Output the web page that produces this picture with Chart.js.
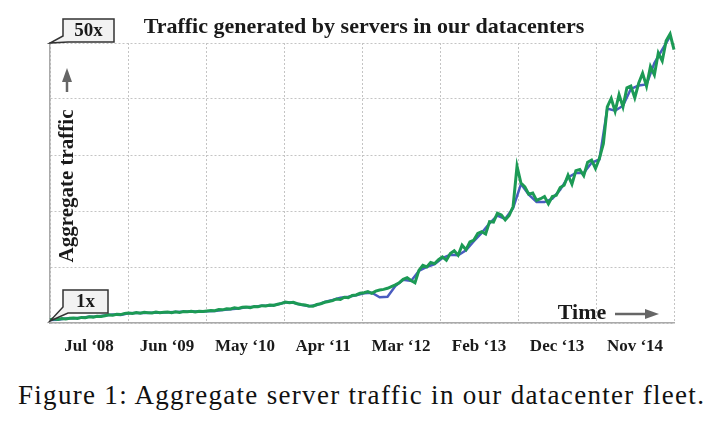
<!DOCTYPE html>
<html>
<head>
<meta charset="utf-8">
<script src="https://cdn.jsdelivr.net/npm/chart.js@4.4.1/dist/chart.umd.min.js"></script>
<style>
  body { margin: 0; background: #fff; }
  #wrap { position: relative; width: 720px; height: 427px; }
  #grafico { position: absolute; left: 0; top: 0; }
  #caption { position: absolute; left: 18px; top: 380px; font: 27px "Liberation Serif", serif; letter-spacing: 1.3px; color: #111; white-space: nowrap; }
</style>
</head>
<body>
<div id="wrap">
  <canvas id="grafico" width="720" height="370"></canvas>
  <div id="caption">Figure 1: Aggregate server traffic in our datacenter fleet.</div>
</div>
<script>
const titulo = "Traffic generated by servers in our datacenters";
const fechas = ["Jul \u201808", "Jun \u201809", "May \u201810", "Apr \u201811", "Mar \u201812", "Feb \u201813", "Dec \u201813", "Nov \u201814"];

// green series, evenly spaced in time from Jul '08 to early '15
const trafico = [
  0.6, 0.75, 0.65, 0.8, 0.7, 0.85, 0.9, 0.8, 1.0, 0.95,
  1.1, 1.05, 1.2, 1.15, 1.3, 1.45, 1.4, 1.55, 1.5, 1.7,
  1.8, 1.7, 1.85, 1.75, 1.9, 1.85, 1.8, 1.95, 1.85, 1.9,
  1.95, 1.85, 2.0, 1.9, 2.05, 2.0, 2.1, 1.95, 2.1, 2.05,
  2.15, 2.25, 2.2, 2.4, 2.35, 2.55, 2.5, 2.7, 2.6, 2.8,
  2.85, 2.75, 2.95, 2.9, 3.1, 3.05, 3.2, 3.15, 3.35, 3.5,
  3.75, 3.6, 3.7, 3.45, 3.3, 3.2, 3.05, 3.0, 3.3, 3.45,
  3.7, 3.85, 4.0, 4.3, 4.2, 4.6, 4.5, 4.9, 5.0, 5.3,
  5.4, 5.6, 5.3, 5.7, 5.9, 6.0, 6.2, 6.5, 6.8, 7.2,
  7.8, 8.1, 7.6, 7.2, 9.4, 10.3, 10.0, 10.8, 10.6, 11.3,
  11.8, 11.2, 12.4, 12.9, 12.1, 13.9, 13.1, 14.5, 14.8, 16.0,
  16.3, 15.9, 18.1, 18.0, 19.6, 19.3, 18.4, 19.2, 20.8, 28.0,
  25.0, 24.3, 23.0, 23.2, 21.9, 22.2, 22.6, 21.3, 22.6, 22.8,
  24.2, 24.6, 26.4, 24.8, 27.2, 27.4, 26.3, 28.7, 29.1, 27.6,
  29.4, 32.0, 38.6, 40.1, 37.8, 40.8, 38.6, 42.0, 42.3, 40.2,
  42.8, 44.6, 42.3, 45.8, 44.3, 48.2, 46.8, 50.4, 51.6, 48.8
];

// blue series, every second sample of the same period
const traficoAzul = [
  0.55, 0.6, 0.8, 0.85, 0.95, 1.1, 1.15, 1.35, 1.5, 1.45,
  1.75, 1.8, 1.8, 1.85, 1.85, 1.9, 1.95, 2.0, 2.05, 2.05,
  2.1, 2.15, 2.3, 2.45, 2.6, 2.8, 2.9, 3.1, 3.1, 3.3,
  3.7, 3.6, 3.25, 3.0, 3.2, 3.75, 4.1, 4.5, 4.7, 4.95,
  5.3, 5.4, 4.6, 4.7, 6.6, 7.7, 7.5, 9.3, 10.0, 10.5,
  11.6, 12.2, 12.1, 13.0, 14.6, 16.1, 17.8, 19.2, 18.6, 20.5,
  24.8, 22.9, 21.6, 21.6, 22.2, 23.8, 26.0, 26.8, 26.8, 28.6,
  29.2, 38.3, 37.9, 38.8, 41.8, 42.4, 42.6, 46.4, 48.8, 51.2
];

function puntos(valores, paso) {
  const n = trafico.length - 1;
  return valores.map((v, i) => ({ x: i * paso * fechas.length / n, y: v }));
}

function globo(ctx, x, y, w, h, px, py, texto) {
  ctx.beginPath();
  ctx.moveTo(x, y);
  ctx.lineTo(x + w, y);
  ctx.lineTo(x + w, y + h);
  ctx.lineTo(x + 5, y + h);
  ctx.lineTo(px, py);
  ctx.lineTo(x, y + h - 6);
  ctx.closePath();
  ctx.fillStyle = "#f2f2f2";
  ctx.fill();
  ctx.strokeStyle = "#333";
  ctx.lineWidth = 1.5;
  ctx.stroke();
  ctx.fillStyle = "#1a1a1a";
  ctx.font = 'bold 19px "Liberation Serif"';
  ctx.textAlign = "center";
  ctx.textBaseline = "middle";
  ctx.fillText(texto, x + w / 2, y + h / 2 + 1);
}

const decoraciones = {
  id: "decoraciones",
  afterDraw(chart) {
    const { ctx, chartArea: a } = chart;
    ctx.save();
    ctx.fillStyle = "#1a1a1a";
    ctx.textAlign = "center";
    ctx.textBaseline = "middle";
    ctx.font = 'bold 22px "Liberation Serif"';
    ctx.fillText(titulo, (a.left + a.right) / 2 + 2, a.top - 16);

    globo(ctx, a.left + 13, a.top - 24, 51, 23, a.left, a.top, "50x");
    globo(ctx, a.left + 13, a.bottom - 33, 45, 23, a.left, a.bottom - 2, "1x");

    // y label with arrow
    ctx.save();
    ctx.translate(a.left + 18, 186);
    ctx.rotate(-Math.PI / 2);
    ctx.fillStyle = "#1a1a1a";
    ctx.font = 'bold 21px "Liberation Serif"';
    ctx.fillText("Aggregate traffic", 0, 0);
    ctx.restore();

    ctx.strokeStyle = "#666";
    ctx.fillStyle = "#666";
    ctx.lineWidth = 2.5;
    ctx.beginPath();
    ctx.moveTo(a.left + 17, 92);
    ctx.lineTo(a.left + 17, 80);
    ctx.stroke();
    ctx.beginPath();
    ctx.moveTo(a.left + 12, 82);
    ctx.lineTo(a.left + 22, 82);
    ctx.lineTo(a.left + 17, 68);
    ctx.closePath();
    ctx.fill();

    // Time arrow
    ctx.fillStyle = "#1a1a1a";
    ctx.font = 'bold 22px "Liberation Serif"';
    ctx.fillText("Time", 582, a.bottom - 10);
    ctx.strokeStyle = "#666";
    ctx.fillStyle = "#666";
    ctx.beginPath();
    ctx.moveTo(615, a.bottom - 9);
    ctx.lineTo(647, a.bottom - 9);
    ctx.stroke();
    ctx.beginPath();
    ctx.moveTo(645, a.bottom - 14);
    ctx.lineTo(645, a.bottom - 4);
    ctx.lineTo(659, a.bottom - 9);
    ctx.closePath();
    ctx.fill();
    ctx.restore();
  }
};

const rejilla = { color: "#c4c4c4", drawTicks: false };
const borde = { color: "#aaaaaa", width: 1.5, dash: [2, 2] };

new Chart(document.getElementById("grafico"), {
  type: "line",
  data: {
    datasets: [
      { label: "verde", data: puntos(trafico, 1), borderColor: "#1c9a55", borderWidth: 3, pointRadius: 0, tension: 0, clip: false },
      { label: "azul", data: puntos(traficoAzul, 2), borderColor: "#4a5cc0", borderWidth: 2.5, pointRadius: 0, tension: 0, clip: false }
    ]
  },
  options: {
    responsive: false,
    animation: false,
    layout: { padding: { left: 50, right: 46, top: 43, bottom: 0 } },
    plugins: { legend: { display: false }, tooltip: { enabled: false } },
    scales: {
      x: {
        type: "linear", min: 0, max: fechas.length, position: "bottom",
        ticks: { display: false, stepSize: 1 },
        grid: rejilla, border: borde,
        afterFit: s => { s.height = 0; }
      },
      etiquetas: {
        type: "category", labels: fechas, offset: true, position: "bottom",
        grid: { display: false, drawTicks: false }, border: { display: false },
        ticks: { font: { family: "Liberation Serif", size: 17, weight: "bold" }, color: "#1a1a1a", padding: 13, maxRotation: 0, autoSkip: false },
        afterFit: s => { s.height = 47; }
      },
      y: {
        min: 0, max: 50,
        ticks: { display: false, stepSize: 10 },
        grid: rejilla, border: borde,
        afterFit: s => { s.width = 0; }
      }
    }
  },
  plugins: [decoraciones]
});
</script>
</body>
</html>
